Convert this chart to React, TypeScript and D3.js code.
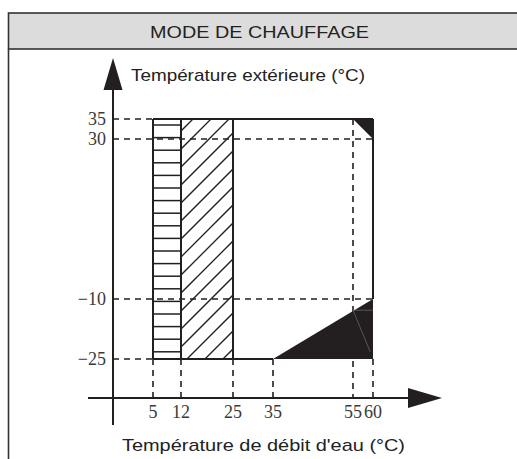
import React from "react";
import * as d3 from "d3";

const title = "MODE DE CHAUFFAGE";
const yTitle = "Température extérieure (°C)";
const xTitle = "Température de débit d'eau (°C)";
const xTicks = [5, 12, 25, 35, 55, 60];
const yTicks = [35, 30, -10, -25];
const hatchHorizontal = [5, 12];
const hatchDiagonal = [12, 25];
const envelopeX = [5, 60];
const envelopeY = [-25, 35];
const topTriangle: [number, number][] = [[55, 35], [60, 35], [60, 30]];
const bottomPolygon: [number, number][] = [[35, -25], [60, -10], [60, -25]];

export default function App() {
  const x = d3.scaleLinear().domain([5, 60]).range([153, 373]);
  const y = d3.scaleLinear().domain([35, -25]).range([119, 359]);
  const axisX = 113;
  const axisY = 398;
  const ink = "#231f20";
  const dash = "6 5";
  const line = d3.line<[number, number]>().x((d) => x(d[0])).y((d) => y(d[1]));

  const [xmin, xmax] = envelopeX;
  const [ymin, ymax] = envelopeY;

  const hLines = d3.range(y(ymax) + 6, y(ymin) - 3, 12.6);
  const dx0 = x(hatchDiagonal[0]);
  const dx1 = x(hatchDiagonal[1]);
  const yb = y(ymin);
  const yt = y(ymax);
  const dLines = d3.range(dx0 + 6 - 18 * 16, dx1 + 18, 18);
  const sans = "Liberation Sans, Arial, sans-serif";

  return (
    <svg width={517} height={459} style={{ position: "absolute", left: 0, top: 0 }}>
      <defs>
        <clipPath id="diagClip">
          <rect x={dx0} y={yt} width={dx1 - dx0} height={yb - yt} />
        </clipPath>
      </defs>
      <rect x={8.5} y={13} width={540} height={36} fill="#dcdcdc" stroke="#333" strokeWidth={1.6} />
      <line x1={8.5} y1={49} x2={8.5} y2={470} stroke="#333" strokeWidth={1.6} />
      <text x={150} y={37.5} textLength={219} lengthAdjust="spacingAndGlyphs" fontFamily={sans} fontSize={17} fill="#222">
        {title}
      </text>

      <g stroke={ink} strokeWidth={1.6} strokeDasharray={dash} fill="none">
        {yTicks.map((t) => {
          const full = t === 30 || t === -10;
          return <line key={"h" + t} x1={axisX} x2={full ? x(xmax) : x(xmin)} y1={y(t)} y2={y(t)} />;
        })}
        {xTicks.map((t) => (
          <line key={"v" + t} x1={x(t)} x2={x(t)} y1={t === 55 ? y(ymax) : y(ymin)} y2={axisY} />
        ))}
      </g>

      <g stroke={ink} strokeWidth={1.5}>
        {hLines.map((yy, i) => (
          <line key={"hl" + i} x1={x(hatchHorizontal[0])} x2={x(hatchHorizontal[1])} y1={yy} y2={yy} />
        ))}
      </g>
      <g stroke={ink} strokeWidth={1.3} clipPath="url(#diagClip)">
        {dLines.map((bx, i) => (
          <line key={"dl" + i} x1={bx} y1={yb} x2={bx + (yb - yt)} y2={yt} />
        ))}
      </g>

      <path d={line(topTriangle)! + "Z"} fill={ink} />
      <path d={line(bottomPolygon)! + "Z"} fill={ink} />
      <g stroke="#777" strokeWidth={0.6} fill="none">
        <line x1={x(55)} x2={x(60)} y1={y(-12.8)} y2={y(-12.8)} />
        <line x1={x(55)} y1={y(-12.8)} x2={x(59.3)} y2={y(-23.2)} />
      </g>

      <g stroke={ink} strokeWidth={2} fill="none">
        <line x1={x(xmin)} x2={x(xmax)} y1={y(ymax)} y2={y(ymax)} />
        <line x1={x(xmax)} x2={x(xmax)} y1={y(ymax)} y2={y(-10)} />
        <line x1={x(xmin)} x2={x(35)} y1={y(ymin)} y2={y(ymin)} />
        <line x1={x(xmin)} x2={x(xmin)} y1={y(ymax)} y2={y(ymin)} />
        <line x1={x(12)} x2={x(12)} y1={y(ymax)} y2={y(ymin)} />
        <line x1={x(25)} x2={x(25)} y1={y(ymax)} y2={y(ymin)} />
      </g>

      <g stroke={ink} strokeWidth={2}>
        <line x1={axisX} x2={axisX} y1={85} y2={425} />
        <line x1={88} x2={410} y1={axisY} y2={axisY} />
      </g>
      <path d={`M${axisX},58 L${axisX + 9.5},90 L${axisX - 9.5},90 Z`} fill={ink} />
      <path d={`M442,${axisY} L408,${axisY - 10} L408,${axisY + 10} Z`} fill={ink} />

      <g fontFamily="Liberation Serif, Times New Roman, serif" fontSize={18} fill="#3a3a3a">
        {yTicks.map((t) => (
          <text key={"yt" + t} x={106} y={y(t) + 6} textAnchor="end">
            {t < 0 ? "\u2212" + Math.abs(t) : t}
          </text>
        ))}
        {xTicks.map((t) => (
          <text key={"xt" + t} x={x(t)} y={418} textAnchor="middle">
            {t}
          </text>
        ))}
      </g>

      <text x={131} y={80.5} textLength={234} lengthAdjust="spacingAndGlyphs" fontFamily={sans} fontSize={17} fill="#222">
        {yTitle}
      </text>
      <text x={122} y={450.5} textLength={283} lengthAdjust="spacingAndGlyphs" fontFamily={sans} fontSize={17} fill="#222">
        {xTitle}
      </text>
    </svg>
  );
}
